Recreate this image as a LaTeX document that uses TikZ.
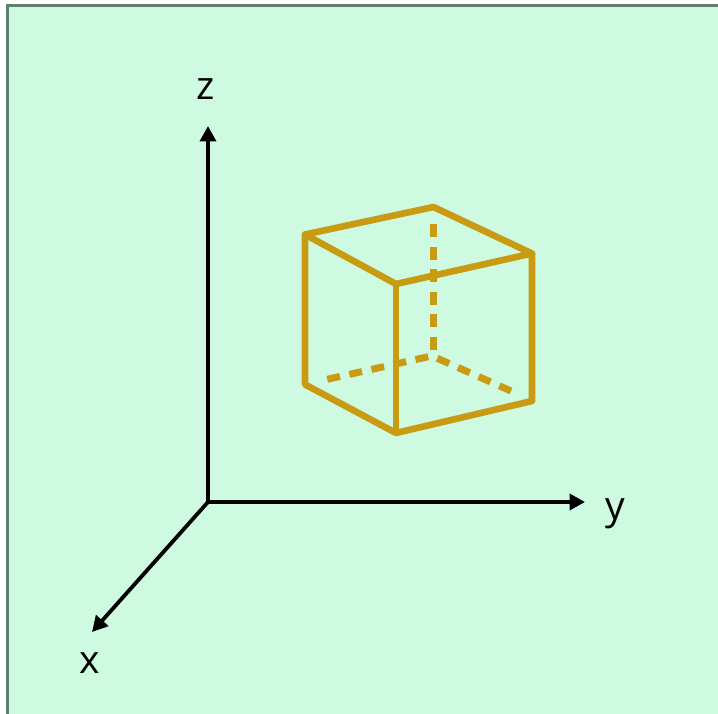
\documentclass[tikz,border=0pt]{standalone}
\usepackage{fontspec}
\setmainfont{Open Sans}
\usetikzlibrary{arrows.meta}
\definecolor{panelbg}{HTML}{CDFAE1}
\definecolor{panelline}{HTML}{5F7F70}
\definecolor{cubecol}{HTML}{C99B12}
\tikzset{
  axis/.style={draw=black,line width=3.8pt,-{Triangle[length=15.5pt,width=16pt]}},
  cubeedge/.style={draw=cubecol,line width=6.6pt,line join=round},
  cubehidden/.style={draw=cubecol,line width=7pt,dash pattern=on 13pt off 9.6pt},
  axislabel/.style={font=\fontsize{39}{39}\selectfont,text=black,inner sep=0pt,anchor=base}
}
\begin{document}
\begin{tikzpicture}[x=1pt,y=-1pt]
\useasboundingbox (0,0) rectangle (718,714);
\begin{scope}
\clip (0,0) rectangle (718,714);
\draw[fill=panelbg,draw=panelline,line width=3pt] (7.2,730) -- (7.2,5.2) -- (730,5.2) -- (730,730) -- cycle;
\end{scope}
% axes
\coordinate (o) at (208,502);
\coordinate (zt) at (208,126);
\coordinate (yt) at (585,502);
\coordinate (xt) at (92,632);
\draw[axis] (o) -- (zt);
\draw[axis] (o) -- (yt);
\draw[axis] (o) -- (xt);
\node[axislabel] (zl) at (206,100) {z};
\node[axislabel] (yl) at (615,519) {y};
\node[axislabel] (xl) at (90,673) {x};
% cube
\coordinate (A) at (305,234.5);
\coordinate (B) at (433.5,207);
\coordinate (C) at (532,253.5);
\coordinate (D) at (396,284);
\coordinate (E) at (305,384.5);
\coordinate (F) at (396,433);
\coordinate (G) at (532,401);
\coordinate (Hz) at (433.5,224);
\coordinate (Hzb) at (433.5,350);
\coordinate (Hl) at (327.3,379.3);
\coordinate (Hlb) at (428.3,356.7);
\coordinate (Hr) at (511,391);
\coordinate (Hrb) at (437.3,358.3);
\draw[cubehidden] (Hz) -- (Hzb);
\draw[cubehidden] (Hl) -- (Hlb);
\draw[cubehidden] (Hrb) -- (Hr);
\draw[cubeedge] (A) -- (B) -- (C) -- (D) -- cycle;
\draw[cubeedge] (A) -- (E) -- (F) -- (G) -- (C);
\draw[cubeedge] (D) -- (F);
\end{tikzpicture}
\end{document}
